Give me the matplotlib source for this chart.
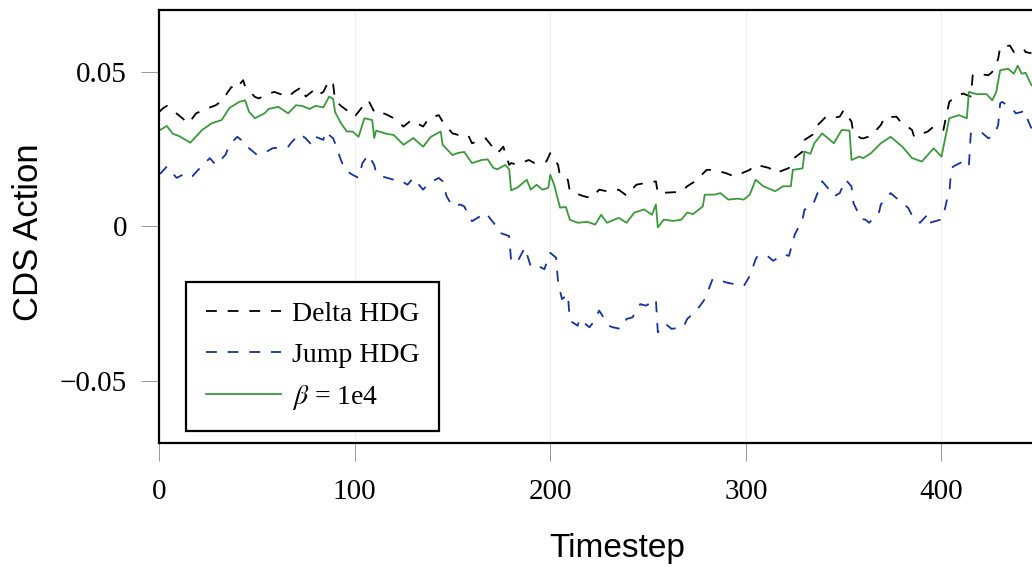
import matplotlib
matplotlib.use("Agg")
import matplotlib.pyplot as plt

# values, (timestep, action)
green_t = [0, 4, 7, 10, 16, 22, 27, 32, 36, 41, 44, 46, 49, 54, 56, 61, 66, 70, 73, 77, 80, 84, 87, 89,
           90, 93, 96, 99, 102, 105, 109, 110, 111, 116, 120, 125, 130, 135, 139, 144, 145, 150, 153, 156,
           160, 165, 168, 171, 173, 177, 179, 180, 183, 188, 190, 193, 196, 199, 200, 202, 205, 208, 210,
           214, 219, 223, 226, 229, 235, 239, 243, 248, 252, 254, 255, 258, 263, 267, 270, 273, 278, 279,
           284, 287, 291, 296, 299, 302, 305, 309, 315, 319, 323, 324, 329, 330, 333, 335, 339, 342, 345,
           349, 353, 354, 358, 360, 364, 369, 374, 380, 385, 390, 396, 400, 404, 409, 413, 414, 418, 423,
           426, 428, 430, 434, 437, 439, 441, 443, 446]
green_v = [0.031, 0.0325, 0.030, 0.0293, 0.0271, 0.0312, 0.0334, 0.0344, 0.0383, 0.0403, 0.0408, 0.0371,
           0.035, 0.0366, 0.038, 0.0387, 0.0366, 0.0392, 0.039, 0.038, 0.039, 0.0385, 0.042, 0.0413,
           0.037, 0.0334, 0.0307, 0.0307, 0.029, 0.035, 0.0344, 0.0286, 0.031, 0.030, 0.0296, 0.0264,
           0.0286, 0.0258, 0.029, 0.0307, 0.0264, 0.0231, 0.0238, 0.0241, 0.0205, 0.0215, 0.0217, 0.0189,
           0.0185, 0.0199, 0.0185, 0.0117, 0.0125, 0.0151, 0.0119, 0.0135, 0.0119, 0.0125, 0.0167, 0.0135,
           0.0061, 0.0063, 0.0022, 0.0012, 0.0015, 0.0006, 0.0038, 0.0012, 0.0028, 0.0012, 0.0045, 0.0055,
           0.0038, 0.0071, -0.0003, 0.0022, 0.0018, 0.0022, 0.0045, 0.004, 0.0065, 0.0103, 0.0103, 0.0108,
           0.0087, 0.009, 0.0087, 0.0103, 0.0151, 0.013, 0.0114, 0.013, 0.013, 0.0183, 0.0188, 0.0242,
           0.0235, 0.0269, 0.0301, 0.0285, 0.0269, 0.0312, 0.031, 0.0215, 0.0226, 0.0221, 0.0237, 0.0269,
           0.029, 0.0258, 0.0221, 0.021, 0.0253, 0.0226, 0.035, 0.036, 0.035, 0.0435, 0.0428, 0.0428,
           0.0408, 0.0435, 0.0505, 0.051, 0.0494, 0.052, 0.0494, 0.0497, 0.0457]

delta_t = [0, 2, 4, 11, 15, 19, 24, 29, 32, 37, 39, 43, 44, 49, 51, 56, 59, 66, 69, 73, 75, 79, 81, 84,
           87, 89, 90, 93, 98, 100, 104, 107, 110, 111, 117, 120, 125, 129, 135, 138, 143, 145, 150, 153,
           158, 160, 167, 169, 173, 176, 179, 180, 183, 189, 192, 198, 200, 204, 205, 209, 210, 217, 221,
           225, 229, 235, 239, 244, 248, 254, 255, 261, 267, 270, 274, 280, 284, 290, 294, 302, 305, 312,
           315, 322, 324, 329, 330, 334, 335, 341, 343, 348, 350, 354, 355, 359, 360, 364, 369, 371, 377,
           379, 385, 386, 393, 396, 401, 402, 404, 406, 411, 415, 416, 418, 424, 426, 429, 430, 435, 437,
           442, 443, 446]
delta_v = [0.037, 0.0382, 0.039, 0.0355, 0.0333, 0.0366, 0.038, 0.0392, 0.0406, 0.0451, 0.0443, 0.0473,
           0.0453, 0.0419, 0.0414, 0.043, 0.0435, 0.0419, 0.0435, 0.0451, 0.042, 0.044, 0.0424, 0.0435,
           0.0473, 0.046, 0.0408, 0.039, 0.0366, 0.0355, 0.0387, 0.0408, 0.0371, 0.0376, 0.036, 0.035,
           0.0323, 0.0344, 0.0323, 0.035, 0.036, 0.0339, 0.0301, 0.0296, 0.0296, 0.0269, 0.0285, 0.0269,
           0.0237, 0.0258, 0.0199, 0.0205, 0.020, 0.0215, 0.0205, 0.021, 0.0237, 0.0199, 0.0162, 0.0151,
           0.0114, 0.0098, 0.0092, 0.0119, 0.0114, 0.0119, 0.010, 0.0135, 0.014, 0.0146, 0.0108, 0.011,
           0.0112, 0.013, 0.0146, 0.0183, 0.0183, 0.0172, 0.0162, 0.0183, 0.020, 0.0189, 0.0172, 0.0189,
           0.0218, 0.0242, 0.028, 0.0296, 0.0317, 0.0355, 0.035, 0.0355, 0.0376, 0.0339, 0.0301, 0.0285,
           0.0285, 0.0293, 0.0328, 0.0353, 0.0355, 0.0339, 0.0312, 0.029, 0.0307, 0.0323, 0.0312, 0.0344,
           0.0403, 0.0414, 0.043, 0.042, 0.0489, 0.0494, 0.0489, 0.050, 0.0542, 0.058, 0.0585, 0.0564,
           0.0575, 0.0564, 0.056]

jump_t = [0, 1, 4, 9, 12, 15, 17, 20, 26, 29, 34, 36, 40, 42, 45, 46, 50, 55, 58, 66, 68, 72, 75, 78,
          80, 84, 85, 89, 90, 93, 95, 99, 102, 104, 107, 110, 111, 114, 120, 123, 127, 130, 135, 138,
          143, 145, 147, 150, 154, 156, 160, 167, 169, 173, 174, 179, 180, 183, 187, 190, 192, 197, 200,
          203, 204, 206, 209, 210, 214, 215, 220, 222, 225, 230, 232, 236, 239, 242, 246, 249, 254, 255,
          259, 262, 268, 270, 275, 279, 283, 285, 290, 293, 299, 302, 305, 306, 311, 314, 319, 322, 324,
          325, 329, 330, 333, 335, 339, 342, 345, 348, 351, 354, 355, 359, 361, 363, 368, 369, 374, 376,
          380, 383, 386, 389, 393, 394, 400, 401, 403, 404, 405, 406, 411, 414, 415, 420, 424, 427, 429,
          430, 431, 436, 438, 441, 442, 446]
jump_v = [0.017, 0.0173, 0.0194, 0.0157, 0.0167, 0.0157, 0.0162, 0.0183, 0.0221, 0.0199, 0.0232, 0.0264,
          0.029, 0.028, 0.0269, 0.0253, 0.0232, 0.0242, 0.0253, 0.0258, 0.0274, 0.0299, 0.0285, 0.0264,
          0.029, 0.028, 0.0307, 0.0285, 0.0269, 0.0215, 0.0183, 0.0167, 0.0157, 0.0205, 0.0232, 0.0199,
          0.0173, 0.0162, 0.0151, 0.0151, 0.0135, 0.0157, 0.0119, 0.014, 0.0157, 0.0146, 0.0098, 0.0065,
          0.0071, 0.0065, 0.0017, 0.0044, 0.0028, -0.0004, -0.002, -0.0031, -0.0111, -0.0117, -0.0068,
          -0.0128, -0.0122, -0.0138, -0.0085, -0.0101, -0.0181, -0.0235, -0.0219, -0.0304, -0.0321,
          -0.0299, -0.0326, -0.031, -0.0272, -0.0321, -0.0326, -0.0331, -0.0299, -0.0294, -0.0251, -0.0256,
          -0.0235, -0.0342, -0.0315, -0.0331, -0.0326, -0.0299, -0.027, -0.0235, -0.017, -0.017, -0.0181,
          -0.0185, -0.0192, -0.016, -0.0106, -0.0095, -0.0095, -0.0111, -0.009, -0.0095, -0.0052, -0.0026,
          0.0023, 0.0055, 0.006, 0.0081, 0.0146, 0.0124, 0.0097, 0.0108, 0.0151, 0.013, 0.0076, 0.0023,
          0.0023, 0.0012, 0.0044, 0.0071, 0.0108, 0.0097, 0.0076, 0.006, 0.0023, 0.0012, 0.0039, 0.0012,
          0.0023, 0.0036, 0.0092, 0.0108, 0.0183, 0.0194, 0.021, 0.0194, 0.0301, 0.0307, 0.0285, 0.0296,
          0.0328, 0.0398, 0.0403, 0.0382, 0.0366, 0.037, 0.0376, 0.0317]

labels = ["Delta HDG", "Jump HDG", r"$\beta$ = 1e4"]
x_ticks = [0, 100, 200, 300, 400]
y_ticks = [-0.05, 0, 0.05]
y_tick_labels = ["\u22120.05", "0", "0.05"]

plt.rcParams["mathtext.fontset"] = "stix"
serif = "Liberation Serif"

fig = plt.figure(figsize=(10.32, 5.67), dpi=100)
ax = fig.add_axes([0.1541, 0.2187, 0.9098, 0.7637])

ax.plot(delta_t, delta_v, color="black", linewidth=1.3, dashes=(6, 6), label=labels[0])
ax.plot(jump_t, jump_v, color="#1233a0", linewidth=1.3, dashes=(6, 6), label=labels[1])
ax.plot(green_t, green_v, color="#3a9a3a", linewidth=1.3, label=labels[2])

ax.set_xlim(0, 480)
ax.set_ylim(-0.07, 0.07)
ax.set_xticks(x_ticks)
ax.set_xticklabels([str(t) for t in x_ticks], fontfamily=serif, fontsize=21)
ax.set_yticks(y_ticks)
ax.set_yticklabels(y_tick_labels, fontfamily=serif, fontsize=21)
ax.tick_params(axis="both", direction="out", length=13, width=0.6, color="#888888")
ax.tick_params(axis="x", pad=13)
ax.tick_params(axis="y", pad=10)
ax.grid(axis="x", color="#eeeeee", linewidth=0.8)
ax.set_axisbelow(True)
for side in ["left", "top", "bottom"]:
    ax.spines[side].set_linewidth(1.6)
ax.spines["right"].set_visible(False)

ax.set_xlabel("Timestep", fontfamily="Liberation Sans", fontsize=24)
ax.xaxis.set_label_coords(0.4877, -0.207)
ax.set_ylabel("CDS Action", fontfamily="Liberation Sans", fontsize=25)
ax.yaxis.set_label_coords(-0.121, 0.487)

leg = ax.legend(loc="lower left", bbox_to_anchor=(0.0288, 0.0277), borderaxespad=0,
                prop={"family": serif, "size": 20}, fancybox=False, framealpha=1,
                edgecolor="black", handlelength=2.7, handletextpad=0.4, labelspacing=0.54,
                borderpad=0.7)
leg.get_frame().set_linewidth(1.6)

fig.savefig("out.png", dpi=100)
